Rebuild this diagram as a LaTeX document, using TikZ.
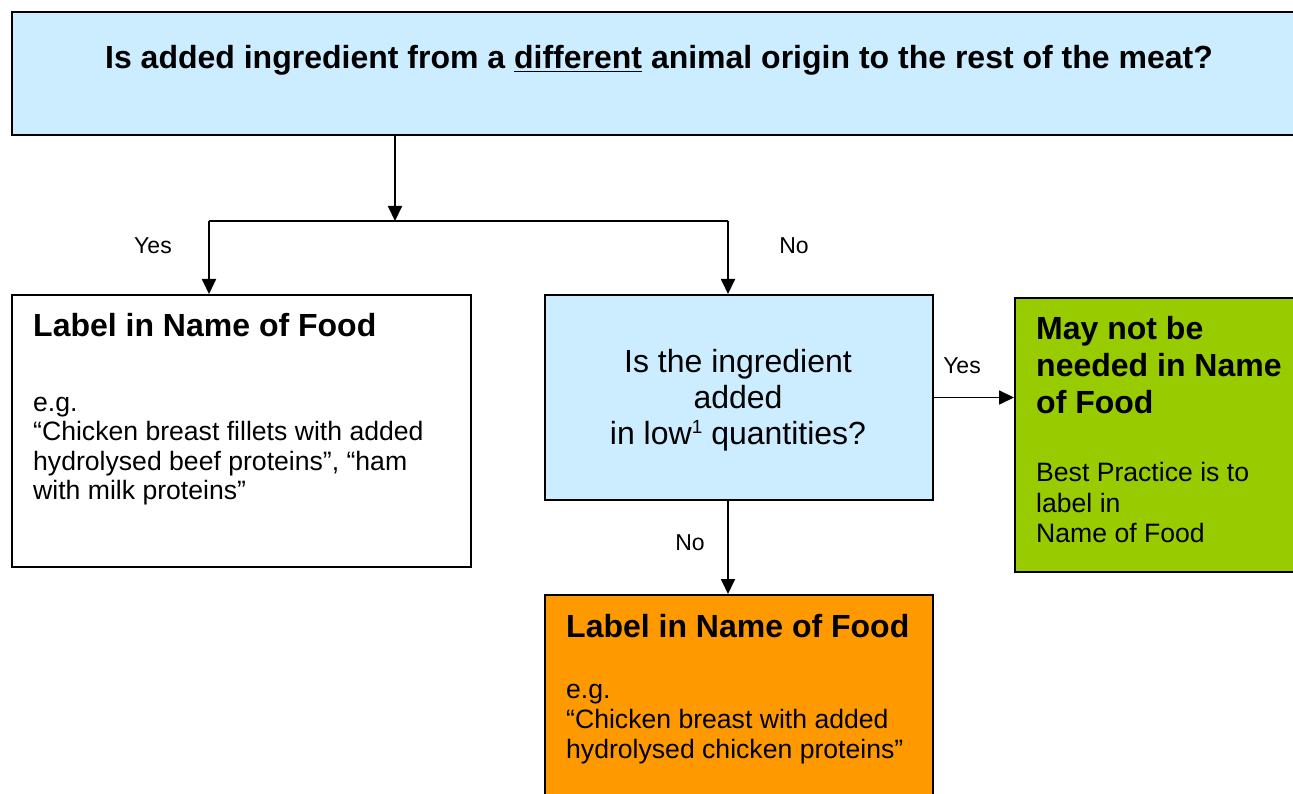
\documentclass[tikz,border=0pt]{standalone}
\usepackage{fontspec}
\setmainfont{Liberation Sans}
\usetikzlibrary{arrows.meta}
\definecolor{lb}{HTML}{CCECFF}
\definecolor{gr}{HTML}{99CC00}
\definecolor{og}{HTML}{FF9900}
\newcommand\mylines[2]{\begin{tabular}[t]{@{}#1@{}}#2\end{tabular}}
\begin{document}
\begin{tikzpicture}[x=1pt,y=-1pt,
  box/.style={draw=black, line width=2pt, inner sep=0pt, anchor=north west},
  conn/.style={line width=1.8pt, -{Triangle[width=14pt,length=15pt]}},
  lbl/.style={font=\fontsize{23}{26}\selectfont, inner sep=0pt},
  head/.style={font=\bfseries\fontsize{32}{37}\selectfont, inner sep=0pt, anchor=base west},
  body/.style={font=\fontsize{26.6}{30}\selectfont, inner sep=0pt, anchor=base west}]
\useasboundingbox (0,0) rectangle (1293,794);
% boxes
\node[box, fill=lb, minimum width=1284pt, minimum height=123pt] (top) at (11,11) {};
\node[box, fill=white, minimum width=459pt, minimum height=272pt] (left) at (11,294) {};
\node[box, fill=lb, minimum width=388pt, minimum height=205pt] (mid) at (544,294) {};
\node[box, fill=gr, minimum width=282pt, minimum height=274pt] (right) at (1014,297) {};
\node[box, fill=og, minimum width=388pt, minimum height=215pt] (bot) at (544,594) {};
% texts
\node[anchor=base, inner sep=0pt, font=\bfseries\fontsize{32}{36}\selectfont] (title) at (659,69)
  {Is added ingredient from a \underline{different} animal origin to the rest of the meat?};
\node[head] (lhead) at (33,337) {Label in Name of Food};
\node[body, font=\fontsize{26.6}{29.5}\selectfont] (lbody) at (33,411)
  {\mylines{l}{e.g.\\“Chicken breast fillets with added\\hydrolysed beef proteins”, “ham\\with milk proteins”}};
\node[anchor=base, inner sep=0pt, font=\fontsize{32}{36}\selectfont] (q2) at (738,372.5)
  {\mylines{c}{Is the ingredient\\added\\in low\raisebox{11pt}{\fontsize{19}{19}\selectfont 1} quantities?}};
\node[head] (rhead) at (1036,339.5) {\mylines{l}{May not be\\needed in Name\\of Food}};
\node[body, font=\fontsize{26.6}{30.5}\selectfont] (rbody) at (1036,481.5) {\mylines{l}{Best Practice is to\\label in\\Name of Food}};
\node[head] (bhead) at (566,637) {Label in Name of Food};
\node[body] (bbody) at (566,698) {\mylines{l}{e.g.\\“Chicken breast with added\\hydrolysed chicken proteins”}};
% connectors
\coordinate (j) at (395,221);
\coordinate (jl) at (209,221);
\coordinate (jr) at (728,221);
\draw[conn] (j |- top.south) -- (j);
\draw[line width=1.8pt] (jl) -- (jr);
\draw[conn] (jl) -- (jl |- left.north);
\draw[conn] (jr) -- (jr |- mid.north);
\draw[conn] (mid.east) -- (mid.east -| right.west);
\draw[conn] (jr |- mid.south) -- (jr |- bot.north);
% labels
\node[lbl] (yes1) at (153,246) {Yes};
\node[lbl] (no1) at (794,246) {No};
\node[lbl] (yes2) at (962,366) {Yes};
\node[lbl] (no2) at (690,543) {No};
\end{tikzpicture}
\end{document}
